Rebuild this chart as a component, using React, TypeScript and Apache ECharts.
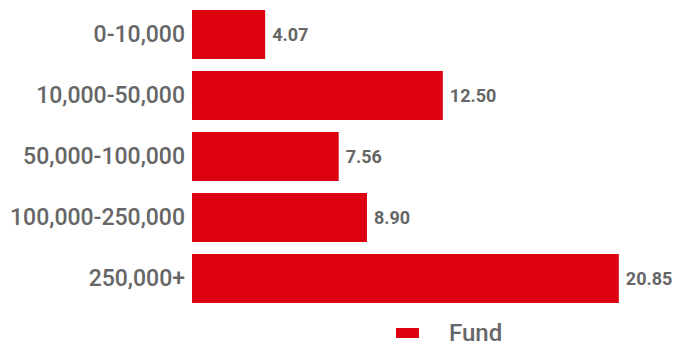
import React, { useEffect, useRef } from "react";
import * as echarts from "echarts";

const categories = ["0-10,000", "10,000-50,000", "50,000-100,000", "100,000-250,000", "250,000+"];
const fundValues = [4.07, 12.5, 7.56, 8.9, 20.85];
const seriesName = "Fund";

export default function App() {
  const ref = useRef<HTMLDivElement>(null);
  useEffect(() => {
    if (!ref.current) return;
    const chart = echarts.init(ref.current, undefined, { renderer: "svg" });
    chart.setOption({
      animation: false,
      grid: { left: 192, right: 66, top: 4, bottom: 38 },
      legend: {
        data: [seriesName],
        left: 391,
        top: 316,
        itemWidth: 23,
        itemHeight: 10,
        icon: "rect",
        textStyle: {
          color: "#666666",
          fontSize: 24,
          fontFamily: "Roboto",
          fontWeight: 500,
          padding: [0, 0, 0, 25],
        },
      },
      xAxis: {
        type: "value",
        min: 0.6,
        max: 21,
        show: false,
      },
      yAxis: {
        type: "category",
        data: categories,
        inverse: true,
        axisLine: { show: false },
        axisTick: { show: false },
        axisLabel: {
          color: "#666666",
          fontSize: 23,
          fontFamily: "Roboto",
          fontWeight: 500,
          margin: 7,
        },
      },
      series: [
        {
          name: seriesName,
          type: "bar",
          data: fundValues,
          barCategoryGap: "20%",
          itemStyle: { color: "#dc0011" },
          label: {
            show: true,
            position: "right",
            distance: 7,
            color: "#666666",
            fontSize: 18,
            fontFamily: "Roboto",
            fontWeight: "bold",
            formatter: (p: any) => p.value.toFixed(2),
          },
        },
      ],
    });
    return () => chart.dispose();
  }, []);
  return <div ref={ref} style={{ width: 688, height: 347, position: "absolute", left: 0, top: 0 }} />;
}
